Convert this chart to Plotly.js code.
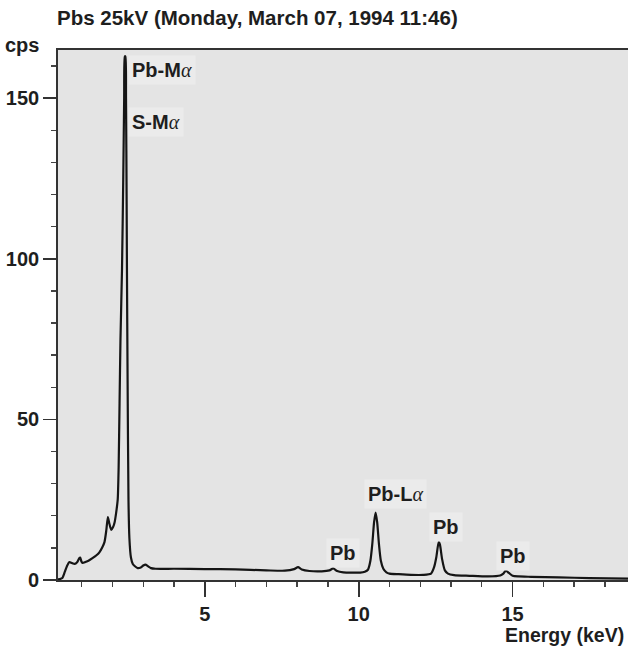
<!DOCTYPE html>
<html>
<head>
<meta charset="utf-8">
<script src="https://cdn.plot.ly/plotly-3.0.1.min.js"></script>
<style>html,body{margin:0;padding:0;background:#fff;}#chart{width:628px;height:649px;}</style>
</head>
<body>
<div id="chart"></div>
<script>
// Energy (keV) and counts per second
const energy = [
  0.23, 0.30, 0.37, 0.45, 0.52, 0.60, 0.68, 0.77, 0.85, 0.92, 0.95, 0.99, 1.03, 1.12, 1.22, 1.35, 1.48, 1.58, 1.67, 1.74,
  1.80, 1.85, 1.90, 1.96, 2.02, 2.07, 2.12, 2.17, 2.20, 2.23, 2.26, 2.31, 2.35, 2.38, 2.40, 2.42, 2.44, 2.46, 2.47, 2.49,
  2.52, 2.55, 2.60, 2.66, 2.74, 2.82, 2.92, 3.00, 3.07, 3.15, 3.25, 3.40, 4.0, 5.0, 6.0, 7.0, 7.6, 7.9, 8.03, 8.15,
  8.4, 8.8, 9.05, 9.17, 9.3, 9.5, 9.8, 10.05, 10.20, 10.30, 10.38, 10.44, 10.50, 10.55, 10.60, 10.66, 10.72, 10.80, 10.90, 11.0,
  11.3, 11.7, 12.1, 12.35, 12.45, 12.52, 12.60, 12.64, 12.71, 12.80, 12.90, 13.1, 13.6, 14.2, 14.6, 14.70, 14.78, 14.88, 15.0, 15.2,
  15.6, 16.5, 17.5, 18.75
];
const cps = [
  0.2, 0.3, 0.6, 2.5, 4.3, 5.6, 5.3, 5.0, 5.5, 6.8, 7.0, 5.8, 5.3, 5.6, 6.0, 6.8, 7.7, 8.7, 10.2, 11.8,
  15.5, 19.6, 17.5, 15.6, 16.5, 18.0, 21.0, 25.0, 35.0, 55.0, 75.0, 97.0, 125.0, 150.0, 163.0, 163.0, 150.0, 118.0, 97.0, 64.0,
  25.0, 13.0, 7.0, 5.0, 4.2, 3.7, 3.9, 4.5, 4.8, 4.3, 3.7, 3.5, 3.5, 3.4, 3.3, 3.0, 2.9, 3.4, 4.0, 3.3,
  2.8, 2.7, 3.0, 3.6, 2.8, 2.4, 2.3, 2.3, 2.6, 3.2, 6.0, 11.0, 18.0, 21.0, 18.0, 11.0, 6.0, 3.5, 2.4, 2.0,
  1.8, 1.6, 1.6, 2.0, 4.0, 7.0, 11.9, 11.0, 6.5, 3.0, 2.0, 1.5, 1.3, 1.1, 1.4, 2.0, 2.9, 2.2, 1.3, 1.1,
  1.0, 0.8, 0.6, 0.4
];
// Peak labels
const alpha = "<span style=\"font-family:'Liberation Serif';font-style:italic;font-weight:normal\">α</span>";
const labelText = ["Pb-M" + alpha, "S-M" + alpha, "Pb-L" + alpha, "Pb", "Pb", "Pb"];
const labelE = [2.50, 2.50, 11.2, 9.48, 12.83, 15.0];
const labelY = [158.9, 142.7, 26.8, 8.4, 16.5, 7.5];
const labelAnchor = ["left", "left", "center", "center", "center", "center"];

const titleText = "Pbs 25kV (Monday, March 07, 1994 11:46)";
const xTitle = "Energy (keV)";
const yTitle = "cps";

const FONT = "'Liberation Sans', Arial, Helvetica, sans-serif";
const ink = "#1e1e1e";

const annotations = labelText.map((t, i) => ({
  x: labelE[i], y: labelY[i], xref: "x", yref: "y",
  text: t, showarrow: false, xanchor: labelAnchor[i], yanchor: "middle",
  bgcolor: "#ebebeb", borderpad: 3,
  font: {family: FONT, size: 20, color: ink, weight: "bold"}
}));
annotations.push({
  x: -0.063, y: 1.0094, xref: "paper", yref: "paper", text: yTitle, showarrow: false,
  xanchor: "center", yanchor: "middle", font: {family: FONT, size: 20, color: ink, weight: "bold"}
});
annotations.push({
  x: 0.9965, y: -0.1038, xref: "paper", yref: "paper", text: xTitle, showarrow: false,
  xanchor: "right", yanchor: "middle", font: {family: FONT, size: 19.5, color: ink, weight: "bold"}
});

const trace = {
  x: energy, y: cps, type: "scatter", mode: "lines",
  line: {color: "#151515", width: 2.2, shape: "spline", smoothing: 0.6},
  hoverinfo: "skip"
};

const layout = {
  width: 628, height: 649,
  margin: {l: 58, r: 0, t: 50, b: 69, pad: 0},
  paper_bgcolor: "#ffffff", plot_bgcolor: "#e4e4e4",
  showlegend: false,
  title: {text: titleText, x: 0.0908, xanchor: "left", xref: "container",
          y: 0.972, yanchor: "middle", yref: "container",
          font: {family: FONT, size: 20.5, color: ink, weight: "bold"}},
  xaxis: {
    range: [0.23, 18.75], tickmode: "linear", tick0: 0, dtick: 5,
    ticks: "outside", ticklen: 15, tickwidth: 1.6, tickcolor: "#333",
    showline: true, linecolor: "#333", linewidth: 1.8, mirror: true,
    showgrid: false, zeroline: false,
    tickfont: {family: FONT, size: 20, color: ink, weight: "bold"},
    minor: {dtick: 1, tick0: 0, ticks: "outside", ticklen: 5, tickwidth: 1.3, tickcolor: "#444", showgrid: false}
  },
  yaxis: {
    range: [0, 165], tickmode: "linear", tick0: 0, dtick: 50,
    ticks: "outside", ticklen: 13, tickwidth: 1.6, tickcolor: "#333",
    showline: true, linecolor: "#333", linewidth: 1.8,
    showgrid: false, zeroline: false,
    tickfont: {family: FONT, size: 20, color: ink, weight: "bold"},
    minor: {dtick: 10, tick0: 0, ticks: "outside", ticklen: 5, tickwidth: 1.3, tickcolor: "#444", showgrid: false}
  },
  annotations: annotations
};

Plotly.newPlot("chart", [trace], layout, {displayModeBar: false, staticPlot: true});
</script>
</body>
</html>
